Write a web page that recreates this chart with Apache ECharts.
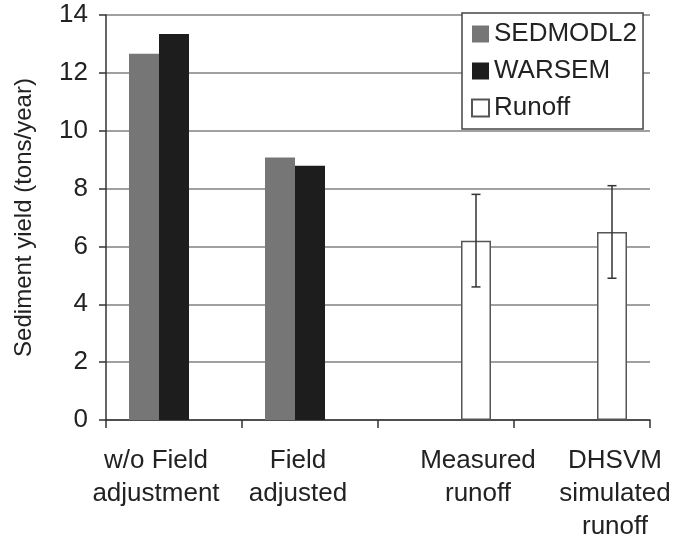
<!DOCTYPE html>
<html>
<head>
<meta charset="utf-8">
<script src="https://cdn.jsdelivr.net/npm/echarts@6/dist/echarts.min.js"></script>
<style>
  html, body { margin: 0; padding: 0; background: #fff; }
  #chart { width: 674px; height: 543px; }
</style>
</head>
<body>
<div id="chart"></div>
<script>
// 数据
const categories = ['w/o Field\nadjustment', 'Field\nadjusted', 'Measured\nrunoff', 'DHSVM\nsimulated\nrunoff']
const sedmodl2 = [12.66, 9.07, '-', '-']
const warsem = [13.34, 8.79, '-', '-']
const runoff = ['-', '-', 6.2, 6.5]
// 误差棒 [类别序号, 下限, 上限]
const runoffErr = [[2, 4.6, 7.8], [3, 4.9, 8.1]]
const yTicks = { min : 0, max : 14, interval : 2 }

// 标签水平偏移(px)，原图标签并非正好居中
const labelShift = [-18, -12, 32, 33]

const BAR_W = 30
const FONT = '"Liberation Sans", Arial, sans-serif'

const chart = echarts.init( document.getElementById( 'chart' ) )

function getCategoryData() {
  return categories.map( ( name, i ) => {
    const s = labelShift[i]
    return {
      value : name,
      textStyle : {
        padding : s < 0 ? [0, -2 * s, 0, 0] : [0, 0, 0, 2 * s]
      }
    }
  } )
}

chart.setOption( {
  backgroundColor : '#ffffff',
  animation : false,
  textStyle : { fontFamily : FONT },
  legend : {
    data : ['SEDMODL2', 'WARSEM', 'Runoff'],
    orient : 'vertical',
    left : 462,
    top : 13,
    padding : [8, 6, 8, 9],
    itemWidth : 17,
    itemHeight : 17,
    itemGap : 11,
    icon : 'rect',
    backgroundColor : '#ffffff',
    borderColor : '#444444',
    borderWidth : 1.5,
    textStyle : {
      fontFamily : FONT,
      fontSize : 26,
      lineHeight : 26,
      color : '#222222'
    }
  },
  grid : {
    left : 106,
    right : 24,
    top : 15,
    bottom : 121
  },
  xAxis : {
    type : 'category',
    data : getCategoryData(),
    axisLine : { lineStyle : { color : '#333333', width : 1.5 } },
    axisTick : { show : true, length : 8, lineStyle : { color : '#333333', width : 1.5 } },
    axisLabel : {
      interval : 0,
      margin : 24,
      fontFamily : FONT,
      fontSize : 26,
      lineHeight : 33,
      color : '#222222',
      align : 'center'
    }
  },
  yAxis : {
    type : 'value',
    min : yTicks.min,
    max : yTicks.max,
    interval : yTicks.interval,
    name : 'Sediment yield (tons/year)',
    nameLocation : 'middle',
    nameRotate : 90,
    nameGap : 70,
    nameTextStyle : { fontFamily : FONT, fontSize : 24, color : '#222222' },
    axisLine : { show : true, lineStyle : { color : '#333333', width : 1.5 } },
    axisTick : { show : true, length : 7, lineStyle : { color : '#333333', width : 1.5 } },
    axisLabel : { margin : 18, fontFamily : FONT, fontSize : 26, color : '#222222' },
    splitLine : { lineStyle : { color : '#a0a0a0', width : 2 } }
  },
  series : [
    {
      name : 'SEDMODL2',
      type : 'bar',
      barWidth : BAR_W,
      barGap : 0,
      itemStyle : { color : '#767676' },
      data : sedmodl2
    },
    {
      name : 'WARSEM',
      type : 'bar',
      barWidth : BAR_W,
      barGap : 0,
      itemStyle : { color : '#1d1d1d' },
      data : warsem
    },
    {
      name : 'Runoff',
      type : 'bar',
      barWidth : BAR_W,
      barGap : 0,
      itemStyle : { color : '#ffffff', borderColor : '#555555', borderWidth : 1.5 },
      data : runoff
    },
    {
      name : 'RunoffError',
      type : 'custom',
      z : 5,
      data : runoffErr,
      renderItem : function( params, api ) {
        const lo = api.coord( [api.value( 0 ), api.value( 1 )] )
        const hi = api.coord( [api.value( 0 ), api.value( 2 )] )
        // 第三根柱子，在类别中心右侧一个柱宽
        const x = lo[0] + BAR_W
        const cap = 4.5
        const style = { stroke : '#333333', lineWidth : 1.5 }
        return {
          type : 'group',
          children : [
            { type : 'line', shape : { x1 : x, y1 : lo[1], x2 : x, y2 : hi[1] }, style : style },
            { type : 'line', shape : { x1 : x - cap, y1 : lo[1], x2 : x + cap, y2 : lo[1] }, style : style },
            { type : 'line', shape : { x1 : x - cap, y1 : hi[1], x2 : x + cap, y2 : hi[1] }, style : style }
          ]
        }
      }
    }
  ]
} )
</script>
</body>
</html>
